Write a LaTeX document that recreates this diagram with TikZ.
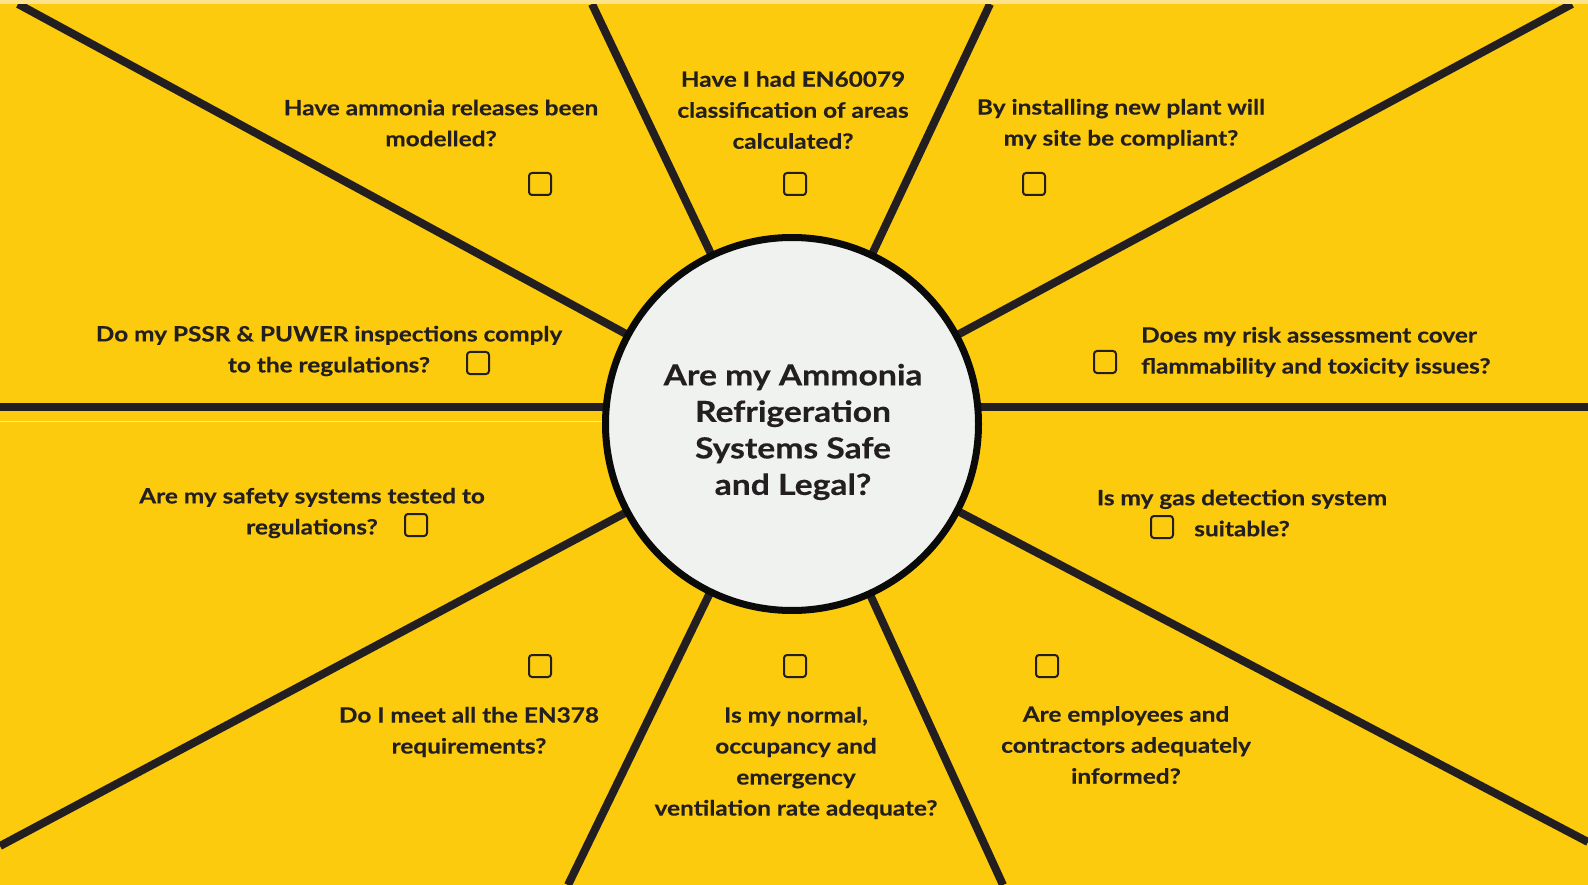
\documentclass[tikz,border=0pt]{standalone}
\usepackage{fontspec}
\setmainfont{Lato}[BoldFeatures={FakeStretch=1.16,FakeBold=0.4}]
\definecolor{bgy}{HTML}{FDCB0E}
\definecolor{band}{HTML}{FDE48C}
\definecolor{ink}{HTML}{231F20}
\definecolor{disc}{HTML}{F0F2F0}
\definecolor{rim}{HTML}{0A0A0A}
\begin{document}
\begin{tikzpicture}[x=1pt,y=-1pt,
  spoke/.style={draw=ink, line width=8pt},
  q/.style={font=\fontsize{21}{31}\selectfont\bfseries, text=ink, align=center, inner sep=0pt},
  cbox/.style={draw=ink, line width=2pt, rounded corners=3pt, minimum size=22pt, inner sep=0pt},
  hub/.style={circle, draw=rim, fill=disc, line width=7pt, minimum size=373pt, inner sep=0pt}]
\useasboundingbox (0,0) rectangle (1588,885);
\fill[bgy] (0,0) rectangle (1588,885);
% spoke end points
\coordinate (ctr) at (792,424);
\coordinate (o1) at (18,4);
\coordinate (o2) at (592,4);
\coordinate (o3) at (990,4);
\coordinate (o4) at (1572,4);
\coordinate (o5) at (0,846);
\coordinate (o6) at (568,885);
\coordinate (o7) at (1003,885);
\coordinate (o8) at (1588,842);
\coordinate (hl) at (0,407);
\coordinate (hr) at (1588,407);
\foreach \p in {o1,o2,o3,o4,o5,o6,o7,o8} \draw[spoke] (\p) -- (ctr);
\draw[spoke] (hl) -- (hl -| ctr) -- (hr);
\draw[white!60!bgy, line width=0.6pt] (0,421) -- (620,421);
\fill[band] (0,0) rectangle (1588,4);
% hub
\node[hub] (c) at (ctr) {};
\node[font=\fontsize{29}{36.5}\selectfont\bfseries, text=ink, align=center, inner sep=0pt] (ct) at (793,432) {Are my Ammonia\\Refrigeration\\Systems Safe\\and Legal?};
% questions
\node[q] (t1) at (441,123) {Have ammonia releases been\\modelled?};
\node[q] (t2) at (793,110) {Have I had EN60079\\classification of areas\\calculated?};
\node[q] (t3) at (1121,124) {By installing new plant will\\my site be compliant?};
\node[q] (t4) at (329,351) {Do my PSSR \& PUWER inspections comply\\to the regulations?};
\node[q, anchor=west, align=left] (t5) at (1141,352) {Does my risk assessment cover\\flammability and toxicity issues?};
\node[q] (t6) at (312,513) {Are my safety systems tested to\\regulations?};
\node[q] (t7) at (1242,513) {Is my gas detection system\\suitable?};
\node[q] (t8) at (469,732) {Do I meet all the EN378\\requirements?};
\node[q] (t9) at (796,763) {Is my normal,\\occupancy and\\emergency\\ventilation rate adequate?};
\node[q] (t10) at (1126,745) {Are employees and\\contractors adequately\\informed?};
% checkboxes
\node[cbox] (b1) at (540,184) {};
\node[cbox] (b2) at (795,184) {};
\node[cbox] (b3) at (1034,184) {};
\node[cbox] (b4) at (478,363) {};
\node[cbox] (b5) at (1105,362) {};
\node[cbox] (b6) at (416,525) {};
\node[cbox] (b7) at (1162,527) {};
\node[cbox] (b8) at (540,666) {};
\node[cbox] (b9) at (795,666) {};
\node[cbox] (b10) at (1047,666) {};
\end{tikzpicture}
\end{document}
